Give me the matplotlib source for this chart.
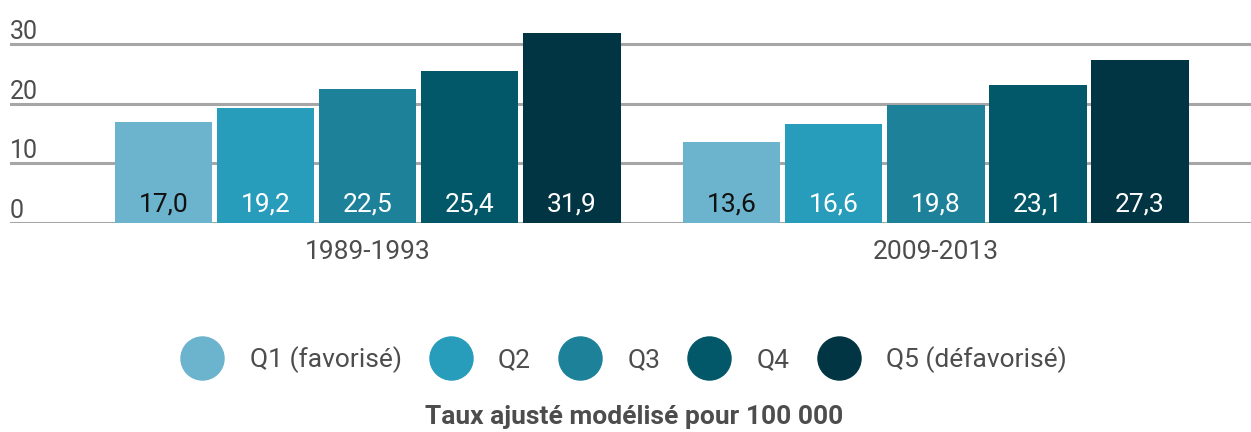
import matplotlib.pyplot as plt
from matplotlib.lines import Line2D
import numpy as np

periods = ['1989-1993', '2009-2013']
quintiles = ['Q1 (favorisé)', 'Q2', 'Q3', 'Q4', 'Q5 (défavorisé)']
values = [
    [17.0, 13.6],
    [19.2, 16.6],
    [22.5, 19.8],
    [25.4, 23.1],
    [31.9, 27.3],
]
colors = ['#6cb3cd', '#279dbb', '#1e819a', '#025868', '#023543']
label_colors = ['#111111', 'white', 'white', 'white', 'white']
yticks = [0, 10, 20, 30]

plt.rcParams['font.family'] = ['Roboto', 'DejaVu Sans']

fig = plt.figure(figsize=(12.51, 4.32), dpi=100)
ax = fig.add_axes([10 / 1251, 1 - 223 / 432, 1 - 10 / 1251, (223 - 26) / 432])

x = np.arange(len(periods))
step = 0.1796
width = 0.171
for i, q in enumerate(quintiles):
    xs = x + (i - 2) * step
    ax.bar(xs, values[i], width=width, color=colors[i], label=q, zorder=2)
    for xi, v in zip(xs, values[i]):
        ax.annotate(f'{v:.1f}'.replace('.', ','), xy=(xi, 0), xytext=(0, 8),
                    textcoords='offset points', ha='center', va='baseline',
                    fontsize=19, color=label_colors[i], zorder=3)

ax.set_xlim(-0.630, 1.5546)
ax.set_ylim(0, 33)
for s in ax.spines.values():
    s.set_visible(False)

ax.set_yticks(yticks)
ax.set_yticklabels([str(t) for t in yticks])
ax.tick_params(axis='y', length=0, pad=0, labelsize=18, labelcolor='#4d4d4d')
for lab in ax.get_yticklabels():
    lab.set_ha('left')
    lab.set_va('bottom')
ax.yaxis.grid(True, color='#a6a6a6', linewidth=2.2)
ax.set_axisbelow(True)

ax.set_xticks(x)
ax.set_xticklabels(periods)
ax.tick_params(axis='x', length=0, pad=12, labelsize=19, labelcolor='#4d4d4d')

handles = [Line2D([], [], marker='o', linestyle='none', markersize=31,
                  markerfacecolor=c, markeredgecolor=c) for c in colors]
fig.legend(handles, quintiles, loc='center', bbox_to_anchor=(624 / 1251, 1 - 360 / 432),
           ncol=5, frameon=False, fontsize=19, labelcolor='#4d4d4d',
           handletextpad=1.0, columnspacing=1.05, handlelength=1.6)

fig.text(634 / 1251, 1 - 417 / 432, 'Taux ajusté modélisé pour 100 000', ha='center',
         va='center', fontsize=19, fontweight='bold', color='#4d4d4d')

fig.savefig('out.png', dpi=100)
